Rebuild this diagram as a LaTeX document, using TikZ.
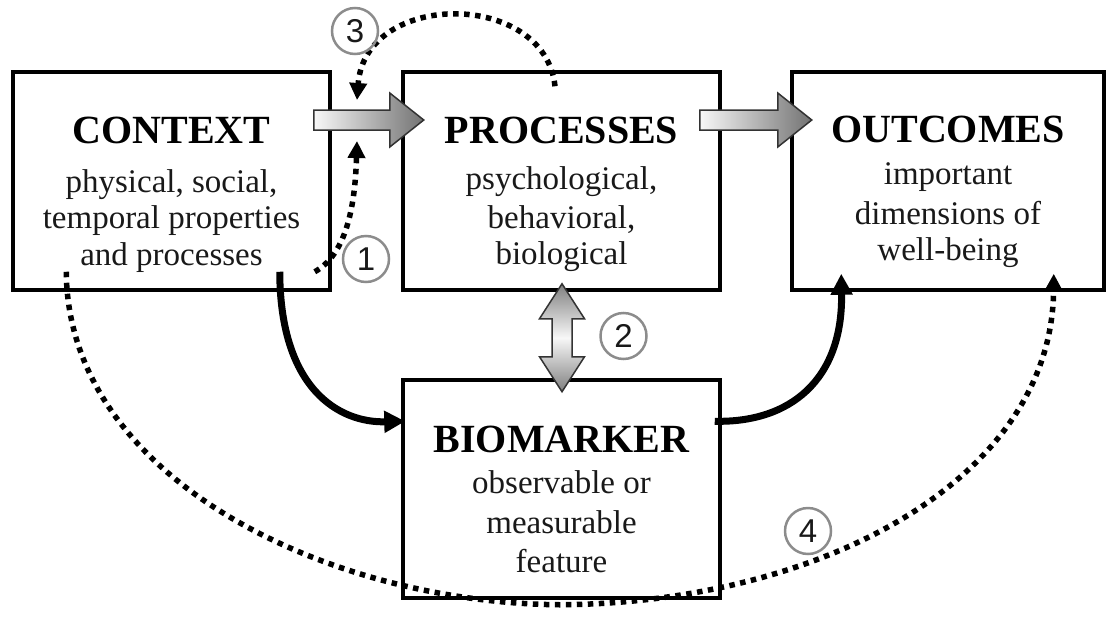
\documentclass[tikz,border=0pt]{standalone}
\usepackage{fontspec}
\setmainfont{Liberation Serif}
\newfontfamily\numfont{Liberation Sans}
\usetikzlibrary{arrows.meta,calc}
\tikzset{
  box/.style={draw, line width=3.5pt, minimum width=317pt, minimum height=218pt, inner sep=0pt},
  ttl/.style={anchor=base, inner sep=0pt, font=\bfseries\fontsize{40}{44}\selectfont},
  txt/.style={anchor=base, inner sep=0pt, font=\fontsize{33}{36}\selectfont, text=black!90},
  num/.style={circle, draw=black!45, line width=2.5pt, minimum size=46pt, inner sep=0pt,
              font=\numfont\fontsize{33}{34}\selectfont, text=black!90},
  dotarrow/.style={line width=5.5pt, dash pattern=on 5.5pt off 5.5pt,
                   -{Triangle[length=17pt,width=17pt]}},
  solidarrow/.style={line width=7pt, -{Triangle[length=21pt,width=21pt]}},
  gradh/.style={draw=black!80, line width=1.5pt, left color=black!3, right color=black!55},
  gradv/.style={draw=black!80, line width=1.5pt, top color=black!50, bottom color=black!50, middle color=black!3},
}
\begin{document}
\begin{tikzpicture}[x=1pt,y=-1pt]
\useasboundingbox (0,0) rectangle (1108,616);
% boxes
\node[box] (ctx) at (171.5,181) {};
\node[box] (proc) at (561.5,181) {};
\node[box, minimum width=312pt] (out) at (948,181) {};
\node[box] (bio) at (561.5,489) {};
% texts
\node[ttl] (ctxT) at (171.5,143) {CONTEXT};
\node[txt] (ctx1) at (171.5,192) {physical, social,};
\node[txt] (ctx2) at (171.5,228) {temporal properties};
\node[txt] (ctx3) at (171.5,265) {and processes};
\node[ttl] (procT) at (561.5,143) {PROCESSES};
\node[txt] (proc1) at (561.5,189) {psychological,};
\node[txt] (proc2) at (561.5,228) {behavioral,};
\node[txt] (proc3) at (561.5,264) {biological};
\node[ttl] (outT) at (948,142) {OUTCOMES};
\node[txt] (out1) at (948,184) {important};
\node[txt] (out2) at (948,224) {dimensions of};
\node[txt] (out3) at (948,260) {well-being};
\node[ttl] (bioT) at (561.5,452) {BIOMARKER};
\node[txt] (bio1) at (561.5,493) {observable or};
\node[txt] (bio2) at (561.5,533) {measurable};
\node[txt] (bio3) at (561.5,572) {feature};
% connector end points
\coordinate (c1s) at ($(ctx.south east)+(-17,-20)$);
\coordinate (t1) at (357,141);
\coordinate (c3s) at ($(proc.north)+(-6.5,16)$);
\coordinate (t3) at (357,100);
\coordinate (c4s) at ($(ctx.south west)+(55,-20)$);
\coordinate (c4m) at ($(bio.south)+(-1.5,5)$);
\coordinate (c4e) at ($(out.south east)+(-52,-18)$);
\coordinate (sAs) at ($(ctx.south east)+(-52,-20)$);
\coordinate (sAe) at ($(bio.north west)+(4,43)$);
\coordinate (sBs) at ($(bio.north east)+(-7,43)$);
\coordinate (sBe) at ($(out.south west)+(51,-18)$);
\coordinate (g1) at ($(ctx.east)+(-18,-61)$);
\coordinate (g2) at ($(proc.east)+(-22,-61)$);
\coordinate (d1) at ($(proc.south)+(0.5,-8)$);
% solid curves
\draw[solidarrow] (sAs) .. controls (280,390) and (340,423) .. (sAe);
\draw[solidarrow] (sBs) .. controls (790,423) and (843,380) .. (sBe);
% dotted curves
\draw[dotarrow] (c1s) .. controls (345,255) and (355,210) .. (t1);
\draw[dotarrow] (c3s) .. controls (545,-10) and (365,-10) .. (t3);
\draw[dotarrow] (c4s) .. controls (68,480) and (330,603) .. (c4m)
                      .. controls (820,603) and (1052,480) .. (c4e);
% block arrows
\path[gradh] (g1) ++(0,-10) -- ++(76,0) -- ++(0,-17) -- ++(34,27) -- ++(-34,27) -- ++(0,-17) -- ++(-76,0) -- cycle;
\path[gradh] (g2) ++(0,-10) -- ++(78,0) -- ++(0,-17) -- ++(34,27) -- ++(-34,27) -- ++(0,-17) -- ++(-78,0) -- cycle;
\path[gradv] (d1) -- ++(22.5,35) -- ++(-12.5,0) -- ++(0,38) -- ++(12.5,0) -- ++(-22.5,35)
   -- ++(-22.5,-35) -- ++(12.5,0) -- ++(0,-38) -- ++(-12.5,0) -- cycle;
% numbered circles
\node[num] (n3) at (355,31) {3};
\node[num] (n1) at (366,259) {1};
\node[num] (n2) at (623.5,336) {2};
\node[num] (n4) at (808,531) {4};
\end{tikzpicture}
\end{document}
